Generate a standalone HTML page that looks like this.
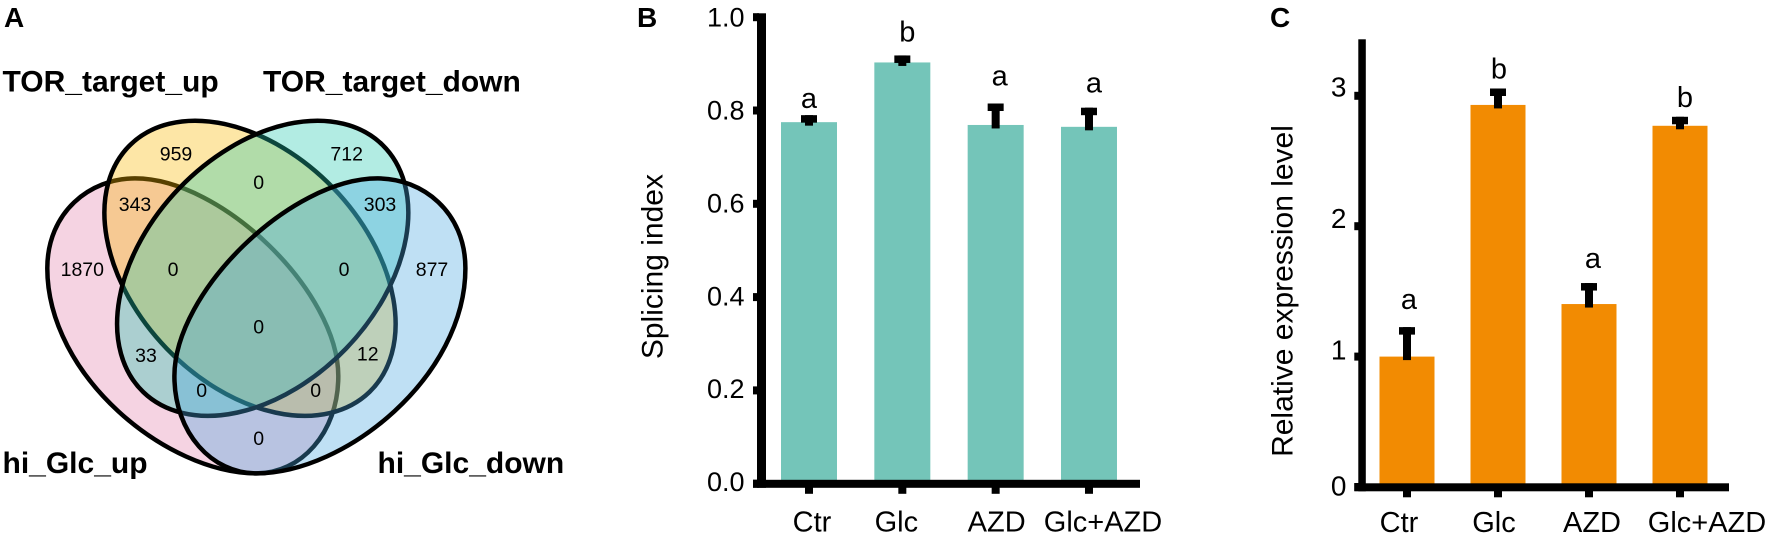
<!DOCTYPE html>
<html lang="en">
<head>
<meta charset="utf-8">
<title>Venn diagram and bar charts</title>
<style>
html,body{margin:0;padding:0;background:#fff;}
svg{display:block;font-family:"Liberation Sans",Arial,sans-serif;}
</style>
</head>
<body>
<svg id="fig" xmlns="http://www.w3.org/2000/svg" width="1772" height="536" viewBox="0 0 1772 536">
  <g id="panel-a">
    <text x="4" y="27" font-size="28" font-weight="bold">A</text>
    <path d="M47.3,268.3 C47.3,212 90,178.4 135,178.4 C222,178.4 338.3,292 338.3,376 C338.3,434 300,473.4 256.7,473.4 C166.7,473.4 47.3,376 47.3,268.3 Z" fill="rgb(227,130,172)" fill-opacity="0.35" stroke="#000" stroke-width="4.5"/>
    <ellipse cx="250" cy="268.3" rx="172" ry="115.7" transform="rotate(46 250 268.3)" fill="rgb(250,184,0)" fill-opacity="0.35" stroke="#000" stroke-width="4.5"/>
    <ellipse cx="262.7" cy="268.3" rx="172" ry="115.7" transform="rotate(-46 262.7 268.3)" fill="rgb(35,200,175)" fill-opacity="0.35" stroke="#000" stroke-width="4.5"/>
    <path transform="translate(512.7,0) scale(-1,1)" d="M47.3,268.3 C47.3,212 90,178.4 135,178.4 C222,178.4 338.3,292 338.3,376 C338.3,434 300,473.4 256.7,473.4 C166.7,473.4 47.3,376 47.3,268.3 Z" fill="rgb(72,167,223)" fill-opacity="0.35" stroke="#000" stroke-width="4.5"/>
    <g font-size="30" font-weight="bold">
      <text x="2.5" y="91.6">TOR_target_up</text>
      <text x="263" y="91.6">TOR_target_down</text>
      <text x="2.5" y="473">hi_Glc_up</text>
      <text x="377.5" y="473">hi_Glc_down</text>
    </g>
    <g font-size="19.5" text-anchor="middle">
      <text x="176" y="160.6">959</text>
      <text x="346.7" y="160.6">712</text>
      <text x="258.7" y="189">0</text>
      <text x="135" y="211">343</text>
      <text x="380" y="211">303</text>
      <text x="82.3" y="276">1870</text>
      <text x="173" y="276">0</text>
      <text x="344" y="276">0</text>
      <text x="432" y="276">877</text>
      <text x="258.7" y="333.6">0</text>
      <text x="146" y="362">33</text>
      <text x="367.7" y="360.6">12</text>
      <text x="201.7" y="397">0</text>
      <text x="315.7" y="397">0</text>
      <text x="258.7" y="445">0</text>
    </g>
  </g>
  <text x="637" y="27" font-size="28" font-weight="bold">B</text>
  <text x="1270" y="27" font-size="28" font-weight="bold">C</text>
  <text transform="translate(662.7,266.6) rotate(-90)" font-size="30" text-anchor="middle">Splicing index</text>
  <text transform="translate(1292.7,291) rotate(-90)" font-size="30" text-anchor="middle">Relative expression level</text>
  <g id="chart-b"></g>
  <g id="chart-c"></g>
</svg>
<script>
const categories = ['Ctr', 'Glc', 'AZD', 'Glc+AZD'];

const valuesB = [0.775, 0.903, 0.769, 0.765];
const errorsB = [0.015, 0.015, 0.046, 0.041];
const lettersB = ['a', 'b', 'a', 'a'];
const ticksB = [0, 0.2, 0.4, 0.6, 0.8, 1.0];
const tickLabelsB = ['0.0', '0.2', '0.4', '0.6', '0.8', '1.0'];

const valuesC = [1.0, 2.93, 1.403, 2.77];
const errorsC = [0.226, 0.126, 0.161, 0.069];
const lettersC = ['a', 'b', 'a', 'b'];
const ticksC = [0, 1, 2, 3];
const tickLabelsC = ['0', '1', '2', '3'];

const NS = 'http://www.w3.org/2000/svg';

function yB(v) { return 483.7 - 466.5 * v; }
function xB(i) { return 809 + 93.33 * i; }
function yC(v) { return 487 - 130.4 * v; }
function xC(i) { return 1407 + 91 * i; }

function shape(tag, attrs, parent) {
  const el = document.createElementNS(NS, tag);
  for (const k in attrs) el.setAttribute(k, attrs[k]);
  parent.appendChild(el);
  return el;
}

function drawChart(opts) {
  const g = opts.root;
  const base = opts.y(0);

  opts.values.forEach(function (v, i) {
    const bar = shape('rect', {
      x: opts.x(i) - opts.barW / 2, y: opts.y(v),
      width: opts.barW, height: base - opts.y(v), fill: opts.color
    }, g);
    
    
  });

  const yAxis = shape('rect', {
    x: opts.axisX, y: opts.axisTop, width: opts.axisW,
    height: opts.xAxisBottom - opts.axisTop, fill: '#000'
  }, g);
  
  

  const xAxis = shape('rect', {
    x: opts.axisX - 4, y: opts.xAxisBottom - 8,
    width: opts.xAxisEnd - opts.axisX + 4, height: 8, fill: '#000'
  }, g);
  
  

  opts.ticks.forEach(function (t, i) {
    const tick = shape('rect', {
      x: opts.axisX - 4, y: opts.y(t) - 4, width: 6, height: 8, fill: '#000'
    }, g);
    
    

    const label = shape('text', {
      x: opts.tickRight, y: opts.y(t) + opts.tickDy[i],
      'font-size': opts.tickFont, 'text-anchor': 'end'
    }, g);
    label.textContent = opts.tickLabels[i];
    
    
  });

  categories.forEach(function (c, i) {
    const tick = shape('rect', {
      x: opts.x(i) - 4, y: opts.xAxisBottom - 1, width: 8, height: 7, fill: '#000'
    }, g);
    
    

    const label = shape('text', {
      x: opts.x(i) + opts.catNudge[i], y: opts.catY,
      'font-size': 29, 'text-anchor': 'middle'
    }, g);
    label.textContent = c;
    
    
  });

  opts.values.forEach(function (v, i) {
    const top = opts.y(v + opts.errors[i]);
    const bottom = opts.y(v) + 3.5;
    const stem = shape('rect', {
      x: opts.x(i) - 4, y: top, width: 8, height: bottom - top, fill: '#000'
    }, g);
    
    

    const cap = shape('rect', {
      x: opts.x(i) - 8, y: top, width: 16, height: 7.5, fill: '#000'
    }, g);
    
    

    const letter = shape('text', {
      x: opts.x(i) + opts.letterDx[i], y: top - opts.letterGap[i],
      'font-size': 29, 'text-anchor': 'middle'
    }, g);
    letter.textContent = opts.letters[i];
    
    
  });
}

drawChart({
  root: document.getElementById('chart-b'),
  x: xB, y: yB, values: valuesB, errors: errorsB, letters: lettersB,
  ticks: ticksB, tickLabels: tickLabelsB,
  color: '#74c5b9', barW: 56,
  axisX: 757, axisW: 9, axisTop: 13.3, xAxisBottom: 487.8, xAxisEnd: 1140,
  tickRight: 744.5, tickFont: 27, tickDy: [7.5, 7.5, 8.5, 8.5, 9, 9.5],
  catNudge: [3, -6, 1, 14], catY: 531.5,
  letterDx: [0, 5, 4, 5], letterGap: [7.3, 14, 18, 15]
});

drawChart({
  root: document.getElementById('chart-c'),
  x: xC, y: yC, values: valuesC, errors: errorsC, letters: lettersC,
  ticks: ticksC, tickLabels: tickLabelsC,
  color: '#f28b02', barW: 55,
  axisX: 1358.3, axisW: 7.5, axisTop: 39.3, xAxisBottom: 491.3, xAxisEnd: 1729,
  tickRight: 1346.5, tickFont: 28, tickDy: [8.6, 3, 2, 0.7],
  catNudge: [-8, -4, 3, 27], catY: 532,
  letterDx: [2, 1, 4, 5], letterGap: [18, 10, 15, 10]
});
</script>
</body>
</html>
